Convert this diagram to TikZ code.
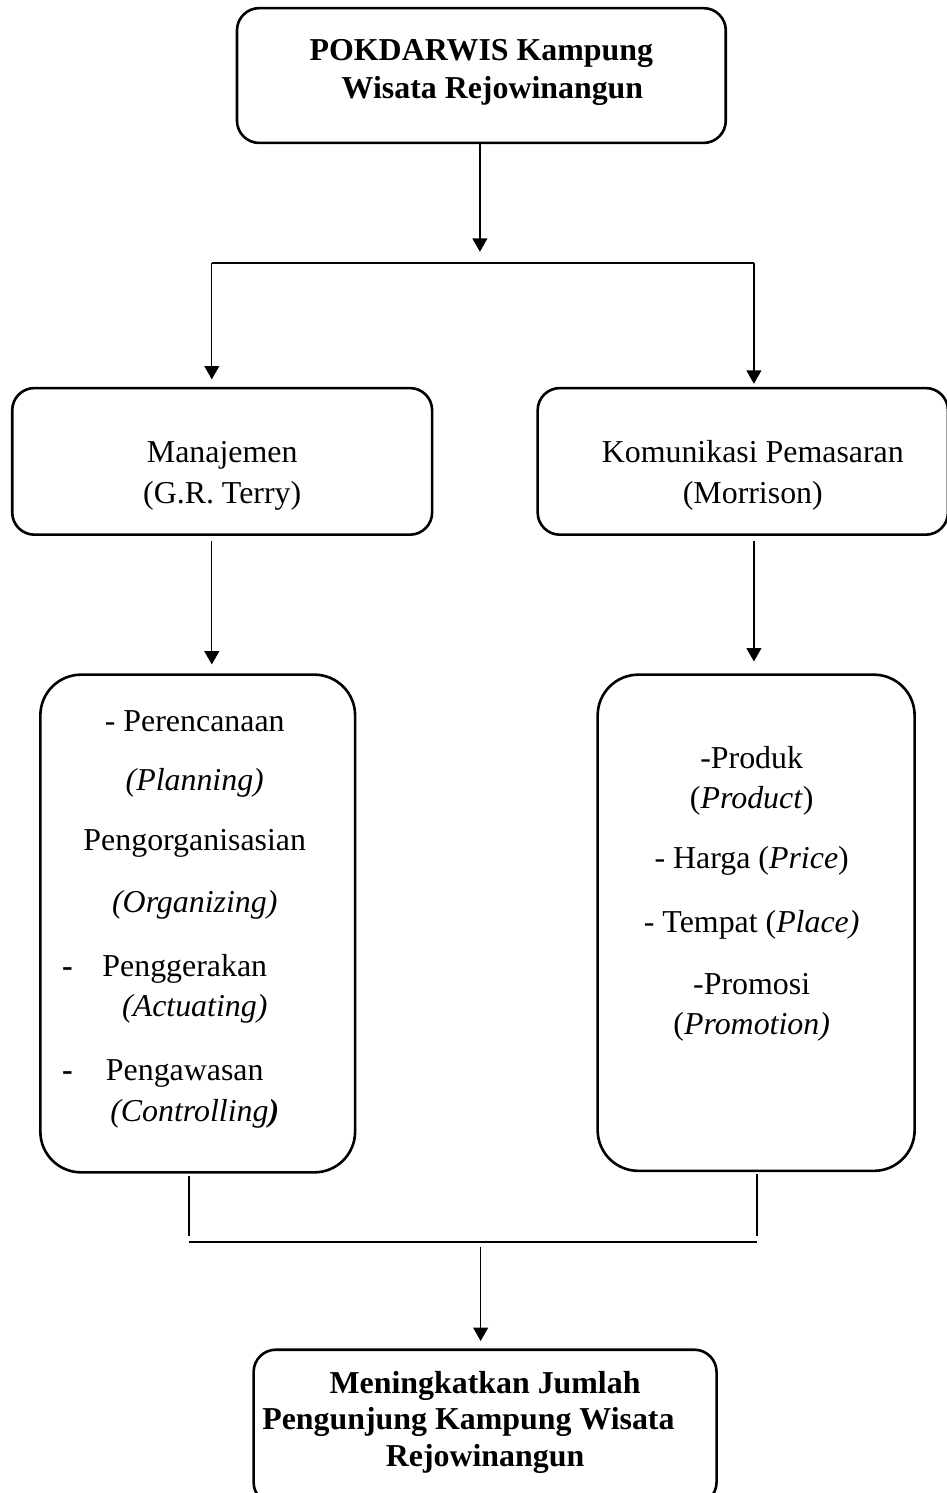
\documentclass[tikz,border=0pt]{standalone}
\usepackage{fontspec}
\setmainfont{Liberation Serif}
\usetikzlibrary{arrows.meta,positioning}

\tikzset{
    box/.style={draw, line width=1pt, rounded corners=0.3cm, align=center, font=\fontsize{12.25}{15.5}\selectfont},
    txt/.style={align=center, font=\fontsize{12.25}{15.5}\selectfont},
    arr/.style={-{Triangle[length=0.18cm,width=0.2cm]}, line width=0.5pt},
    link/.style={line width=0.5pt}
}

\begin{document}
\begin{tikzpicture}
    \useasboundingbox (0,0) rectangle (12.78,-20.16);

    % boxes
    \node[box, minimum width=6.6cm, minimum height=1.82cm] (pokdarwis) at (6.50,-1.02) {\textbf{POKDARWIS Kampung}\\[-1pt]\hspace*{0.3cm}\textbf{Wisata Rejowinangun}\rule[-0.18cm]{0pt}{0.18cm}};
    \node[box, minimum width=5.67cm, minimum height=1.98cm] (mgmt) at (3.00,-6.23) {\rule{0pt}{0.68cm}Manajemen\\(G.R. Terry)};
    \node[box, minimum width=5.54cm, minimum height=1.98cm] (comm) at (10.03,-6.23) {\rule{0pt}{0.68cm}\hspace*{0.27cm}Komunikasi Pemasaran\\\hspace*{0.27cm}(Morrison)};

    \node[box, rounded corners=0.55cm, minimum width=4.25cm, minimum height=6.72cm] (poac) at (2.67,-12.47) {};
    \node[txt] (poactext) at (2.63,-12.41) {- Perencanaan\\[0.26cm]
        \textit{(Planning)}\\[0.26cm]
        Pengorganisasian\\[0.29cm]
        \textit{(Organizing)}\\[0.32cm]
        \llap{\textbf{-}\hspace{0.4cm}}Penggerakan\rule{0.27cm}{0pt}\\
        \textit{(Actuating)}\\[0.32cm]
        \llap{\textbf{-}\hspace{0.45cm}}Pengawasan\rule{0.27cm}{0pt}\\
        \textit{(Controlling\textbf{)}}};

    \node[box, rounded corners=0.55cm, minimum width=4.28cm, minimum height=6.70cm] (mix) at (10.21,-12.46) {};
    \node[txt] (mixtext) at (10.15,-12.07) {-Produk\\
        (\textit{Product})\\[0.26cm]
        - Harga (\textit{Price})\\[0.33cm]
        - Tempat (\textit{Place)}\\[0.29cm]
        -Promosi\\
        (\textit{Promotion)}};

    \node[box, minimum width=6.25cm, minimum height=2.09cm] (goal) at (6.55,-19.27) {\textbf{Meningkatkan Jumlah}\\[-1.5pt]
        \textbf{Pengunjung Kampung Wisata}\rule{0.45cm}{0pt}\\[-1.5pt]
        \textbf{Rejowinangun}\rule[-0.23cm]{0pt}{0.23cm}};

    % connectors
    \coordinate (split) at (6.48,-3.40);
    \coordinate (lsplit) at (2.86,-3.55);
    \coordinate (rsplit) at (10.18,-3.55);
    \draw[arr] (pokdarwis.south -| split) -- (split);
    \draw[link] (lsplit) -- (rsplit);
    \draw[arr, shorten >=0.1cm] (lsplit) -- (lsplit |- mgmt.north);
    \draw[arr, shorten >=0.04cm] (rsplit) -- (rsplit |- comm.north);

    \draw[arr, shorten <=0.07cm, shorten >=0.12cm] (mgmt.south -| lsplit) -- (poac.north -| lsplit);
    \draw[arr, shorten <=0.07cm, shorten >=0.16cm] (comm.south -| rsplit) -- (mix.north -| rsplit);

    \coordinate (ljoin) at (2.55,-16.77);
    \coordinate (rjoin) at (10.22,-16.77);
    \coordinate (merge) at (6.49,-16.77);
    \draw[link, shorten <=0.03cm, shorten >=0.08cm] (poac.south -| ljoin) -- (ljoin);
    \draw[link, shorten <=0.03cm, shorten >=0.08cm] (mix.south -| rjoin) -- (rjoin);
    \draw[link] (ljoin) -- (rjoin);
    \draw[arr, shorten <=0.07cm, shorten >=0.1cm] (merge) -- (merge |- goal.north);
\end{tikzpicture}
\end{document}
